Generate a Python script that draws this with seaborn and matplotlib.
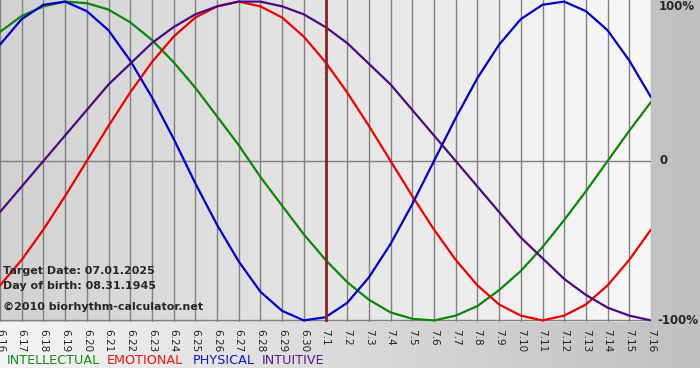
import numpy as np
import pandas as pd
import matplotlib
matplotlib.use("Agg")
import matplotlib.pyplot as plt
import seaborn as sns
from matplotlib.colors import LinearSegmentedColormap

# day labels, 6.16 .. 7.16
days = ["6.16", "6.17", "6.18", "6.19", "6.20", "6.21", "6.22", "6.23", "6.24", "6.25",
        "6.26", "6.27", "6.28", "6.29", "6.30", "7.1", "7.2", "7.3", "7.4", "7.5",
        "7.6", "7.7", "7.8", "7.9", "7.10", "7.11", "7.12", "7.13", "7.14", "7.15", "7.16"]

# values in percent, one per day
intellectual = [81, 91, 97, 100, 99, 95, 87, 76, 62, 46, 28, 10, -10, -28, -46, -62,
                -76, -87, -95, -99, -100, -97, -91, -81, -69, -54, -37, -19, 0, 19, 37]
emotional = [-78, -62, -43, -22, 0, 22, 43, 62, 78, 90, 97, 100, 97, 90, 78, 62,
             43, 22, 0, -22, -43, -62, -78, -90, -97, -100, -97, -90, -78, -62, -43]
physical = [73, 89, 98, 100, 94, 82, 63, 40, 14, -14, -40, -63, -82, -94, -100, -98,
            -89, -73, -52, -27, 0, 27, 52, 73, 89, 98, 100, 94, 82, 63, 40]
intuitive = [-32, -16, 0, 16, 32, 48, 61, 74, 84, 92, 97, 100, 100, 97, 92, 84,
             74, 61, 48, 32, 16, 0, -16, -32, -48, -61, -74, -84, -92, -97, -100]

target_idx = days.index("7.1")

series = {"INTELLECTUAL": intellectual, "EMOTIONAL": emotional,
          "PHYSICAL": physical, "INTUITIVE": intuitive}
colors = {"INTELLECTUAL": "#0a870a", "EMOTIONAL": "#ee0000",
          "PHYSICAL": "#0000cc", "INTUITIVE": "#4b0a82"}
legend_colors = {"INTELLECTUAL": "#118a11", "EMOTIONAL": "#ee1111",
                 "PHYSICAL": "#1111cc", "INTUITIVE": "#551a88"}

rows = []
for name, vals in series.items():
    for i, v in enumerate(vals):
        rows.append({"day": i, "value": v, "series": name})
df = pd.DataFrame(rows)

sns.set_style("white")
plt.rcParams["font.family"] = ["DejaVu Sans"]

W, H = 700, 380
fig = plt.figure(figsize=(7, 3.8), dpi=100)

# outer background gradient
bg = fig.add_axes([0, 0, 1, 1], zorder=0)
bg.set_xlim(0, 1)
bg.set_ylim(0, 1)
bg.axis("off")
grad = np.linspace(0, 1, 256).reshape(1, -1)
bg.imshow(grad, aspect="auto", extent=[0, 1, 12 / H, 1],
          cmap=LinearSegmentedColormap.from_list("outer", ["#f4f4f4", "#c0c0c0"]))

ax = fig.add_axes([0, 58 / H, 651 / W, 322 / H], zorder=1)
ax.imshow(grad, aspect="auto", extent=[0, 30, -101, 101], zorder=0,
          cmap=LinearSegmentedColormap.from_list("inner", ["#d2d2d2", "#f8f8f8"]))

ax.set_xticks(range(len(days)))
ax.set_xticklabels(days, rotation=270, fontsize=7.5, color="#222222")
ax.tick_params(axis="x", length=4, width=1, color="#808080", pad=1)
ax.set_yticks([])
ax.grid(axis="x", color="#808080", linewidth=1)
ax.set_axisbelow(True)
for s in ax.spines.values():
    s.set_visible(False)
ax.axhline(0, color="#808080", linewidth=1, zorder=1)
ax.axhline(-100, color="#808080", linewidth=1, zorder=1)

sns.lineplot(data=df, x="day", y="value", hue="series", palette=colors,
             linewidth=1.6, legend=False, ax=ax, zorder=3)
for ln in ax.get_lines():
    ln.set_solid_joinstyle("round")
ax.axvline(target_idx, color="#8b2323", linewidth=2, zorder=4)

ax.set_xlim(0, 30)
ax.set_ylim(-101, 101)
ax.set_xlabel("")
ax.set_ylabel("")


def px(x, y):
    return x / W, 1 - y / H


fig.text(*px(3, 271), "Target Date: 07.01.2025", fontsize=8, fontweight="bold",
         va="center", ha="left", zorder=5)
fig.text(*px(3, 286), "Day of birth: 08.31.1945", fontsize=8, fontweight="bold",
         va="center", ha="left", zorder=5)
fig.text(*px(3, 307), "\u00a92010 biorhythm-calculator.net", fontsize=8, fontweight="bold",
         va="center", ha="left", zorder=5)

fig.text(*px(659, 7), "100%", fontsize=8.5, fontweight="bold", va="center", ha="left")
fig.text(*px(659, 161), "0", fontsize=8.5, fontweight="bold", va="center", ha="left")
fig.text(*px(657, 321), "-100%", fontsize=8.5, fontweight="bold", va="center", ha="left")

xs = [7, 107, 193, 262]
for x, name in zip(xs, series):
    fig.text(*px(x, 361), name, fontsize=9.2, color=legend_colors[name],
             va="center", ha="left")

fig.savefig("out.png", dpi=100)
